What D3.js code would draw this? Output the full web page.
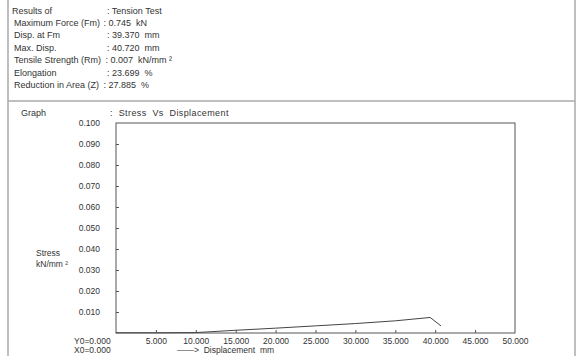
<!DOCTYPE html>
<html lang="en">
  <head>
    <meta charset="UTF-8" />
    <title>Tension Test</title>
    <script src="https://cdn.jsdelivr.net/npm/d3@7/dist/d3.min.js"></script>
    <style>
      body { margin: 0; background: #fff; }
      text { font-family: "Liberation Sans", Arial, sans-serif; fill: #333; white-space: pre; }
    </style>
  </head>
  <body>
    <svg width="580" height="356"></svg>
  </body>

  <script>
    // result table
    var resultLabels = ['Results of', 'Maximum Force (Fm)', 'Disp. at Fm', 'Max. Disp.',
      'Tensile Strength (Rm)', 'Elongation', 'Reduction in Area (Z)'];
    var resultValues = ['Tension Test', '0.745  kN', '39.370  mm', '40.720  mm',
      '0.007  kN/mm \u00b2', '23.699  %', '27.885  %'];
    var colonX = [107, 103.5, 107, 107, 105.5, 107, 103.5]; // where the ':' sits on each row

    // curve (displacement mm, stress kN/mm²)
    var disp = [0, 5, 10, 15, 20, 25, 30, 35, 39.37, 40.72];
    var stress = [0.0001, 0.0001, 0.0002, 0.0013, 0.0023, 0.0034, 0.0045, 0.0058, 0.0074, 0.0034];

    var xTicks = [5, 10, 15, 20, 25, 30, 35, 40, 45, 50];
    var yTicks = [0.01, 0.02, 0.03, 0.04, 0.05, 0.06, 0.07, 0.08, 0.09, 0.1];

    var svg = d3.select('svg');
    var fs = 8.5;

    // outer frame
    var frame = svg.append('g').attr('stroke', '#aaa').attr('stroke-width', 1.5);
    frame.append('line').attr('x1', 8).attr('x2', 8).attr('y1', 0).attr('y2', 356);
    frame.append('line').attr('x1', 575).attr('x2', 575).attr('y1', 0).attr('y2', 356);
    frame.append('line').attr('x1', 8).attr('x2', 575).attr('y1', 101).attr('y2', 101);

    // table rows
    var rows = svg.append('g').selectAll('g').data(resultLabels).enter().append('g')
      .attr('transform', function (d, i) { return 'translate(0,' + (13.5 + i * 12.4) + ')'; });
    rows.append('text')
      .attr('x', function (d, i) { return i === 0 ? 12 : 14; })
      .attr('font-size', 9)
      .text(function (d) { return d; });
    rows.append('text')
      .attr('x', function (d, i) { return colonX[i]; })
      .attr('font-size', 9)
      .text(function (d, i) { return ': ' + resultValues[i]; });

    svg.append('text').attr('x', 21).attr('y', 116).attr('font-size', 9).text('Graph');
    svg.append('text').attr('x', 110).attr('y', 116).attr('font-size', 9)
      .attr('letter-spacing', 0.4)
      .text(':  Stress  Vs  Displacement');

    // scales
    var x = d3.scaleLinear().domain([0, 50]).range([116, 515]);
    var y = d3.scaleLinear().domain([0, 0.1]).range([333, 123]);

    // plot box
    svg.append('rect')
      .attr('x', x(0)).attr('y', y(0.1))
      .attr('width', x(50) - x(0)).attr('height', y(0) - y(0.1))
      .attr('fill', 'none').attr('stroke', '#555').attr('stroke-width', 1);

    var axisY = d3.axisLeft(y).tickValues(yTicks).tickSizeInner(-3).tickSizeOuter(0)
      .tickPadding(16).tickFormat(d3.format('.3f'));
    var gy = svg.append('g').attr('transform', 'translate(' + x(0) + ',0)').call(axisY);

    var axisX = d3.axisBottom(x).tickValues(xTicks).tickSizeInner(-3).tickSizeOuter(0)
      .tickPadding(5).tickFormat(d3.format('.3f'));
    var gx = svg.append('g').attr('transform', 'translate(0,' + y(0) + ')').call(axisX);

    [gx, gy].forEach(function (g) {
      g.select('.domain').remove();
      g.selectAll('.tick line').attr('stroke', '#555');
      g.selectAll('.tick text').attr('font-size', fs).attr('font-family', null).attr('fill', '#333');
    });
    gy.select('.tick:last-of-type line').remove();
    gx.select('.tick:last-of-type line').remove();

    // origin and axis labels
    svg.append('text').attr('x', 74).attr('y', 344).attr('font-size', fs).text('Y0=0.000');
    svg.append('text').attr('x', 74).attr('y', 353).attr('font-size', fs).text('X0=0.000');
    svg.append('text').attr('x', 177).attr('y', 353).attr('font-size', fs).text('\u2014\u2014>  Displacement  mm');
    svg.append('text').attr('x', 36).attr('y', 256).attr('font-size', fs).text('Stress');
    svg.append('text').attr('x', 36).attr('y', 267).attr('font-size', fs).text('kN/mm \u00b2');

    // curve
    var line = d3.line()
      .x(function (d, i) { return x(d); })
      .y(function (d, i) { return y(stress[i]); });
    svg.append('path').datum(disp)
      .attr('d', line)
      .attr('fill', 'none')
      .attr('stroke', '#444')
      .attr('stroke-width', 1);
  </script>
</html>
